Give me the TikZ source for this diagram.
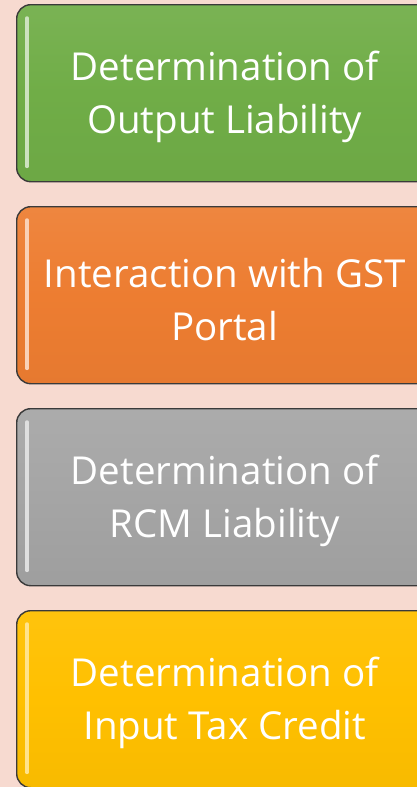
\documentclass[tikz,border=0pt]{standalone}
\usepackage{fontspec}
\setmainfont{Open Sans}
\definecolor{bg}{HTML}{F7DAD0}
\definecolor{cgreen}{HTML}{70AD47}
\definecolor{corange}{HTML}{ED7D31}
\definecolor{cgray}{HTML}{A5A5A5}
\definecolor{cyellow}{HTML}{FFC000}
\definecolor{edge}{HTML}{3A3A3A}
\begin{document}
\begin{tikzpicture}[x=1pt,y=-1pt,
  card/.style={draw=edge, line width=1.4pt, rounded corners=14pt,
    minimum width=416pt, minimum height=177pt, anchor=north west, inner sep=0pt},
  cardtext/.style={text=white, align=center, font=\fontsize{38.5}{53}\selectfont, inner sep=0pt, yshift=-4pt},
  shine/.style={line width=3.5pt, line cap=round, draw=#1}]
\fill[bg] (0,0) rectangle (417,787);
\useasboundingbox (0,0) rectangle (417,787);
\node[card, top color=cgreen!93!white, bottom color=cgreen!97!black, middle color=cgreen] (b1) at (16,4) {};
\node[card, top color=corange!93!white, bottom color=corange!97!black, middle color=corange] (b2) at (16,206) {};
\node[card, top color=cgray!93!white, bottom color=cgray!96!black, middle color=cgray] (b3) at (16,408) {};
\node[card, top color=cyellow!95!white, bottom color=cyellow!97!black, middle color=cyellow] (b4) at (16,610) {};
\node[cardtext] (t1) at (b1.center) {Determination of\\Output Liability};
\node[cardtext] (t2) at (b2.center) {Interaction with GST\\Portal};
\node[cardtext] (t3) at (b3.center) {Determination of\\RCM Liability};
\node[cardtext] (t4) at (b4.center) {Determination of\\Input Tax Credit};
\draw[shine=cgreen!35!white] ([shift={(11,14)}]b1.north west) -- ([shift={(11,-16)}]b1.south west);
\draw[shine=corange!35!white] ([shift={(11,14)}]b2.north west) -- ([shift={(11,-16)}]b2.south west);
\draw[shine=cgray!35!white] ([shift={(11,14)}]b3.north west) -- ([shift={(11,-16)}]b3.south west);
\draw[shine=cyellow!45!white] ([shift={(11,14)}]b4.north west) -- ([shift={(11,-16)}]b4.south west);
\end{tikzpicture}
\end{document}
